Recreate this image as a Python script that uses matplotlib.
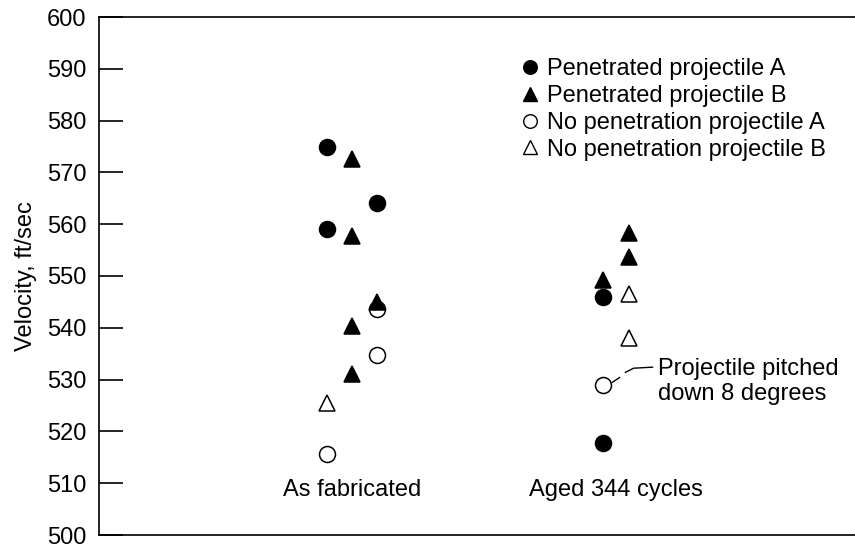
import matplotlib
matplotlib.use("Agg")
import matplotlib.pyplot as plt
from matplotlib.lines import Line2D

plt.rcParams['font.family'] = ['Liberation Sans', 'DejaVu Sans']

groups = ["As fabricated", "Aged 344 cycles"]
group_x = [1, 2]
col_step = 0.095

# (group index, column offset, velocity)
pen_a = [(0, -1, 575.0), (0, -1, 559.0), (0, 1, 564.0),
         (1, -0.5, 546.0), (1, -0.5, 517.8)]
pen_b = [(0, 0, 572.6), (0, 0, 557.7), (0, 1, 545.0), (0, 0, 540.3), (0, 0, 531.1),
         (1, 0.5, 558.3), (1, 0.5, 553.6), (1, -0.5, 549.3)]
nopen_a = [(0, 1, 543.7), (0, 1, 534.8), (0, -1, 515.7),
           (1, -0.5, 528.9)]
nopen_b = [(0, -1, 525.5),
           (1, 0.5, 546.5), (1, 0.5, 538.0)]

fig = plt.figure(figsize=(8.55, 5.52), dpi=100)
ax = fig.add_axes([99/855, 17/552, 1 - 99/855, 518/552])


def xy(pts):
    xs = [group_x[g] + c * col_step for g, c, v in pts]
    ys = [v for g, c, v in pts]
    return xs, ys


ms = 11.5
for pts, mk, fc, z in [(nopen_a, 'o', 'white', 2), (nopen_b, '^', 'white', 2),
                       (pen_a, 'o', 'black', 3), (pen_b, '^', 'black', 3)]:
    xs, ys = xy(pts)
    ax.plot(xs, ys, linestyle='none', marker=mk, markersize=ms,
            markerfacecolor=fc, markeredgecolor='black', markeredgewidth=1.1, zorder=z)

for gx, name in zip(group_x, groups):
    ax.text(gx, 508.6, name, ha='center', va='center', fontsize=17)

# leader for the pitched projectile (drawn with a small break, as in the original)
px, py = xy([nopen_a[-1]])
x0, y0 = px[0], py[0]
ax.plot([x0 + 0.034, x0 + 0.061], [y0 + 0.6, y0 + 1.5], color='black', lw=1)
ax.plot([x0 + 0.083, x0 + 0.114, x0 + 0.186],
        [y0 + 2.5, y0 + 3.3, y0 + 3.5], color='black', lw=1)
ax.text(x0 + 0.208, y0 + 0.75, "Projectile pitched\ndown 8 degrees",
        ha='left', va='center', fontsize=17, linespacing=1.15)

ax.set_xlim(0.042, 2.905)
ax.set_ylim(500, 600)
ax.set_yticks(range(500, 601, 10))
ax.set_xticks([])
ax.tick_params(axis='y', direction='in', length=17, width=1.2, labelsize=17, pad=9)
ax.spines['right'].set_visible(False)
for s in ['left', 'top', 'bottom']:
    ax.spines[s].set_linewidth(1.2)
ax.set_ylabel("Velocity, ft/sec", fontsize=17, labelpad=7)

handles = [
    Line2D([], [], ls='none', marker='o', color='black', markersize=ms),
    Line2D([], [], ls='none', marker='^', color='black', markersize=ms),
    Line2D([], [], ls='none', marker='o', markerfacecolor='white', markeredgecolor='black', markersize=ms),
    Line2D([], [], ls='none', marker='^', markerfacecolor='white', markeredgecolor='black', markersize=ms),
]
labels = ["Penetrated projectile A", "Penetrated projectile B",
          "No penetration projectile A", "No penetration projectile B"]
ax.legend(handles, labels, loc='upper left', bbox_to_anchor=(522/855, 1 - 58.5/552),
          bbox_transform=fig.transFigure, frameon=False, fontsize=17,
          handlelength=0.7, handletextpad=0.35, labelspacing=0.2,
          borderpad=0, borderaxespad=0, markerscale=0.85)

fig.savefig("out.png", dpi=100)
